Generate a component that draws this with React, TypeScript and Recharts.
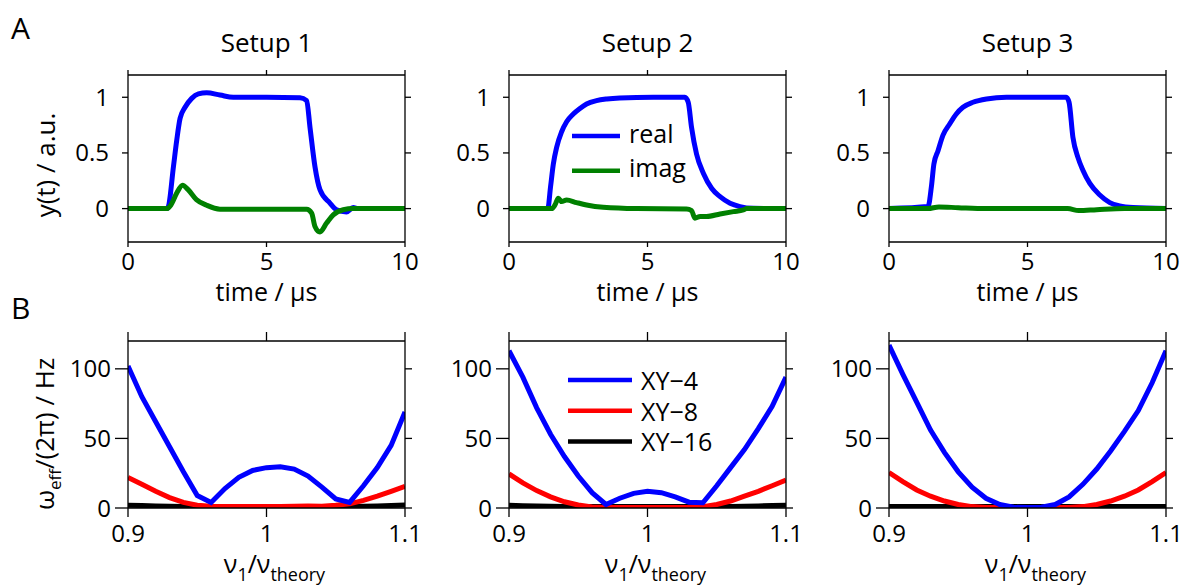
import { Legend, Line, LineChart, XAxis, YAxis } from "recharts";

const FONT = '"Open Sans", sans-serif';

// ---- panel A: measured signal, time in µs ----
const timeTicks = [0, 5, 10];
const signalTicks = [0, 0.5, 1];
const setupTitles = ["Setup 1", "Setup 2", "Setup 3"];

const setup1RealT = [0, 1.4, 1.46, 1.64, 1.76, 1.88, 2.06, 2.3, 2.54, 2.84, 3.32, 3.8, 5, 6.21, 6.45, 6.57, 6.75, 6.93, 7.29, 7.53, 7.89, 8.13, 8.3, 10];
const setup1Real = [0, 0, 0.02, 0.376, 0.615, 0.81, 0.91, 0.99, 1.03, 1.04, 1.02, 1.0, 1.0, 0.995, 0.97, 0.73, 0.376, 0.17, 0.05, -0.01, -0.03, 0.01, 0, 0];
const setup1ImagT = [0, 1.4, 1.55, 1.76, 1.97, 2.17, 2.47, 2.84, 3.32, 6.45, 6.63, 6.75, 6.93, 7.17, 7.41, 7.77, 8.13, 10];
const setup1Imag = [0, 0, 0.033, 0.14, 0.21, 0.17, 0.08, 0.03, -0.005, -0.005, -0.04, -0.16, -0.21, -0.13, -0.056, -0.01, 0, 0];

const setup2RealT = [0, 1.4, 1.5, 1.6, 1.72, 1.9, 2.08, 2.32, 2.56, 2.8, 3.16, 3.53, 4.0, 5.21, 6.35, 6.47, 6.59, 6.77, 7.02, 7.32, 7.62, 7.98, 8.34, 8.82, 10];
const setup2Real = [0, 0, 0.196, 0.4, 0.55, 0.69, 0.78, 0.85, 0.9, 0.94, 0.97, 0.985, 0.994, 1.0, 1.0, 0.955, 0.73, 0.49, 0.315, 0.18, 0.107, 0.048, 0.018, 0.003, 0];
const setup2ImagT = [0, 1.54, 1.66, 1.78, 1.9, 2.08, 2.44, 2.8, 3.4, 4.61, 6.41, 6.59, 6.71, 6.9, 7.13, 7.62, 8.1, 8.46, 8.58, 10];
const setup2Imag = [0, 0, 0.033, 0.092, 0.063, 0.077, 0.054, 0.033, 0.012, 0, -0.003, -0.018, -0.086, -0.071, -0.071, -0.048, -0.027, -0.012, 0, 0];

const setup3RealT = [0, 1.41, 1.53, 1.62, 1.77, 1.95, 2.19, 2.43, 2.67, 3.03, 3.52, 4.24, 6.4, 6.5, 6.64, 6.82, 7.0, 7.25, 7.61, 7.97, 8.33, 8.81, 10];
const setup3Real = [0, 0.018, 0.196, 0.4, 0.52, 0.66, 0.76, 0.85, 0.91, 0.955, 0.985, 1.0, 1.0, 0.955, 0.64, 0.46, 0.345, 0.226, 0.122, 0.054, 0.024, 0.009, 0];
const setup3ImagT = [0, 1.41, 1.8, 2.5, 3.5, 6.45, 6.85, 7.5, 8.5, 10];
const setup3Imag = [0, 0, 0.015, 0.008, 0, 0, -0.018, -0.01, 0, 0];

// ---- panel B: effective rotation vs. pulse frequency ratio ----
const nuRatio = [0.9, 0.91, 0.92, 0.93, 0.94, 0.95, 0.96, 0.97, 0.98, 0.99, 1.0, 1.01, 1.02, 1.03, 1.04, 1.05, 1.06, 1.07, 1.08, 1.09, 1.1];
const nuTicks = [0.9, 1, 1.1];
const omegaTicks = [0, 50, 100];

const b1xy4 = [102, 80, 62, 44, 26, 9, 4, 14, 22, 27, 29, 29.7, 28, 23, 15, 6.5, 4, 16, 29, 45, 69];
const b1xy8 = [22, 17, 12, 7.5, 4, 2, 1.2, 1, 1, 1, 1, 1, 1.2, 1.5, 1.3, 2, 3, 5.5, 8.5, 12, 15.5];
const b1xy16 = [2, 1.8, 1.5, 1.2, 1, 1, 1, 1, 1, 1, 1, 1, 1, 1, 1, 1, 1, 1.2, 1.5, 1.8, 2.2];

const b2xy4 = [113, 94, 72, 53, 37, 23, 11, 2.5, 7, 10.5, 12, 11, 8, 4.2, 3.8, 16, 29, 42, 57, 73, 94];
const b2xy8 = [24.5, 18, 12.5, 8, 4.5, 2.2, 0.8, 0.3, 0.3, 0.3, 0.3, 0.3, 0.3, 0.3, 1, 2.5, 5, 8.5, 12, 16, 20];
const b2xy16 = [2, 1.7, 1.4, 1.2, 1, 1, 1, 1, 1, 1, 1, 1, 1, 1, 1, 1, 1, 1.2, 1.5, 1.8, 2];

const b3xy4 = [117, 96, 76, 56, 40, 26, 15, 7, 2.5, 0.5, 0.3, 0.5, 2.5, 8, 17, 28, 41, 55, 70, 90, 113];
const b3xy8 = [25.5, 19, 13, 8.5, 5, 2.5, 1, 0.3, 0.3, 0.3, 0.3, 0.3, 0.3, 0.3, 1, 2.5, 5, 8.5, 13, 19, 25.5];
const b3xy16 = [1, 1, 1, 1, 1, 1, 1, 1, 1, 1, 1, 1, 1, 1, 1, 1, 1, 1, 1, 1, 1];

const topLegendOrder = ["real", "imag"];
const bottomLegendOrder = ["XY\u22124", "XY\u22128", "XY\u221216"];

// layout
const FRAME_W = 277;
const FRAME_H = 167;
const LEFT_W = 120;
const RIGHT_W = 24;
const TOP_H = 75;
const BOTTOM_H = 80;
const COL_X = [128, 509, 889];
const ROW_Y = [75, 340.5];
const CHART_W = LEFT_W + FRAME_W + RIGHT_W;
const CHART_H = TOP_H + FRAME_H + BOTTOM_H;
const TICK_FONT = 24;
const LABEL_FONT = 25;

const axisStyle = {
  stroke: "#000",
  axisLine: { stroke: "#000", strokeWidth: 1.3 },
  tickLine: { stroke: "#000", strokeWidth: 1.3 },
  tick: { fill: "#000", fontSize: TICK_FONT },
};
const blank = () => "";

const pairs = (xs: number[], ys: number[]) => xs.map((x, i) => ({ x, y: ys[i] }));

function LegendBox({ payload, order, gap, swatch, textDy }: any) {
  const items = order
    .map((name: string) => (payload || []).find((p: any) => p.value === name))
    .filter(Boolean);
  return (
    <svg width={swatch + 110} height={gap * items.length + 10} style={{ overflow: "visible" }}>
      {items.map((p: any, i: number) => {
        const y = 20 + i * gap;
        return (
          <g key={p.value}>
            <line x1={0} x2={swatch} y1={y} y2={y} stroke={p.color} strokeWidth={4.5} />
            <text x={swatch + 9} y={y + textDy} fontSize={25} fill="#000" fontFamily={FONT}>
              {p.value}
            </text>
          </g>
        );
      })}
    </svg>
  );
}

function TimePanel({ col, real, imag }: { col: number; real: { x: number; y: number }[]; imag: { x: number; y: number }[] }) {
  return (
    <div style={{ position: "absolute", left: COL_X[col] - LEFT_W, top: ROW_Y[0] - TOP_H }}>
      <LineChart width={CHART_W} height={CHART_H} margin={{ top: 0, right: 0, bottom: 0, left: 0 }}>
        <XAxis
          xAxisId="b"
          type="number"
          dataKey="x"
          domain={[0, 10]}
          ticks={timeTicks}
          allowDataOverflow
          height={BOTTOM_H}
          tickSize={5}
          tickMargin={6}
          {...axisStyle}
          label={{
            content: () => (
              <text x={LEFT_W + FRAME_W / 2} y={TOP_H + FRAME_H + 59} textAnchor="middle" fontSize={LABEL_FONT} fill="#000">
                time / µs
              </text>
            ),
          }}
        />
        <XAxis
          xAxisId="t"
          orientation="top"
          type="number"
          dataKey="x"
          domain={[0, 10]}
          ticks={timeTicks}
          allowDataOverflow
          height={TOP_H}
          tickSize={5}
          tickFormatter={blank}
          {...axisStyle}
          label={{
            content: () => (
              <g>
                {col === 0 && (
                  <text x={3} y={39} fontSize={30} fill="#000">
                    A
                  </text>
                )}
                <text x={LEFT_W + FRAME_W / 2} y={TOP_H - 23} textAnchor="middle" fontSize={26} fill="#000">
                  {setupTitles[col]}
                </text>
              </g>
            ),
          }}
        />
        <YAxis
          yAxisId="l"
          type="number"
          domain={[-0.3, 1.2]}
          ticks={signalTicks}
          allowDataOverflow
          width={LEFT_W}
          tickSize={6}
          tickMargin={13}
          {...axisStyle}
          label={
            col === 0
              ? {
                  content: () => (
                    <text transform={`translate(47, ${TOP_H + 90}) rotate(-90)`} textAnchor="middle" fontSize={26} fill="#000">
                      y(t) / a.u.
                    </text>
                  ),
                }
              : undefined
          }
        />
        <YAxis
          yAxisId="r"
          orientation="right"
          type="number"
          domain={[-0.3, 1.2]}
          ticks={signalTicks}
          allowDataOverflow
          width={RIGHT_W}
          tickSize={6}
          tickFormatter={blank}
          {...axisStyle}
        />
        {col === 1 && (
          <Legend
            layout="vertical"
            align="center"
            verticalAlign="middle"
            wrapperStyle={{ left: 183, top: 116, width: 160, height: 80 }}
            content={(props: any) => (
              <LegendBox payload={props.payload} order={topLegendOrder} gap={34.7} swatch={48} textDy={6.5} />
            )}
          />
        )}
        <Line
          xAxisId="b"
          yAxisId="l"
          data={real}
          dataKey="y"
          name="real"
          type="monotone"
          stroke="#0000ff"
          strokeWidth={5}
          dot={false}
          activeDot={false}
          isAnimationActive={false}
        />
        <Line
          xAxisId="b"
          yAxisId="l"
          data={imag}
          dataKey="y"
          name="imag"
          type="monotone"
          stroke="#008000"
          strokeWidth={5}
          dot={false}
          activeDot={false}
          isAnimationActive={false}
        />
      </LineChart>
    </div>
  );
}

function OmegaPanel({ col, xy4, xy8, xy16 }: { col: number; xy4: number[]; xy8: number[]; xy16: number[] }) {
  const table = nuRatio.map((nu, i) => ({ nu, xy4: xy4[i], xy8: xy8[i], xy16: xy16[i] }));
  return (
    <div style={{ position: "absolute", left: COL_X[col] - LEFT_W, top: ROW_Y[1] - TOP_H }}>
      <LineChart width={CHART_W} height={CHART_H} data={table} margin={{ top: 0, right: 0, bottom: 0, left: 0 }}>
        <XAxis
          xAxisId="b"
          type="number"
          dataKey="nu"
          domain={[0.9, 1.1]}
          ticks={nuTicks}
          allowDataOverflow
          height={BOTTOM_H}
          tickSize={9}
          tickMargin={8}
          {...axisStyle}
          label={{
            content: () => (
              <text x={LEFT_W + FRAME_W / 2 + 8} y={TOP_H + FRAME_H + 65} textAnchor="middle" fontSize={LABEL_FONT} fill="#000">
                ν
                <tspan dy={8} fontSize={18}>
                  1
                </tspan>
                <tspan dy={-8}>/ν</tspan>
                <tspan dy={8} fontSize={18}>
                  theory
                </tspan>
              </text>
            ),
          }}
        />
        <XAxis
          xAxisId="t"
          orientation="top"
          type="number"
          dataKey="nu"
          domain={[0.9, 1.1]}
          ticks={nuTicks}
          allowDataOverflow
          height={TOP_H}
          tickSize={9}
          tickFormatter={blank}
          {...axisStyle}
          label={
            col === 0
              ? {
                  content: () => (
                    <text x={3} y={52.5} fontSize={30} fill="#000">
                      B
                    </text>
                  ),
                }
              : undefined
          }
        />
        <YAxis
          yAxisId="l"
          type="number"
          domain={[0, 120]}
          ticks={omegaTicks}
          allowDataOverflow
          width={LEFT_W}
          tickSize={13}
          tickMargin={4}
          {...axisStyle}
          label={
            col === 0
              ? {
                  content: () => (
                    <text transform={`translate(46, ${TOP_H + 93}) rotate(-90)`} textAnchor="middle" fontSize={26} fill="#000">
                      ω
                      <tspan dy={7} fontSize={17}>
                        eff
                      </tspan>
                      <tspan dy={-7}>/(2π) / Hz</tspan>
                    </text>
                  ),
                }
              : undefined
          }
        />
        <YAxis
          yAxisId="r"
          orientation="right"
          type="number"
          domain={[0, 120]}
          ticks={omegaTicks}
          allowDataOverflow
          width={RIGHT_W}
          tickSize={7}
          tickFormatter={blank}
          {...axisStyle}
        />
        {col === 1 && (
          <Legend
            layout="vertical"
            align="center"
            verticalAlign="middle"
            wrapperStyle={{ left: 179, top: 94, width: 190, height: 100 }}
            content={(props: any) => (
              <LegendBox payload={props.payload} order={bottomLegendOrder} gap={30.7} swatch={64} textDy={10} />
            )}
          />
        )}
        <Line xAxisId="b" yAxisId="l" dataKey="xy16" name={bottomLegendOrder[2]} type="linear" stroke="#000000" strokeWidth={5} dot={false} activeDot={false} isAnimationActive={false} />
        <Line xAxisId="b" yAxisId="l" dataKey="xy8" name={bottomLegendOrder[1]} type="linear" stroke="#ff0000" strokeWidth={5} dot={false} activeDot={false} isAnimationActive={false} />
        <Line xAxisId="b" yAxisId="l" dataKey="xy4" name={bottomLegendOrder[0]} type="linear" stroke="#0000ff" strokeWidth={5} dot={false} activeDot={false} isAnimationActive={false} />
      </LineChart>
    </div>
  );
}

export default function App() {
  return (
    <div
      style={{
        position: "absolute",
        left: 0,
        top: 0,
        width: 1184,
        height: 585,
        overflow: "hidden",
        background: "#fff",
        fontFamily: FONT,
      }}
    >
      <TimePanel col={0} real={pairs(setup1RealT, setup1Real)} imag={pairs(setup1ImagT, setup1Imag)} />
      <TimePanel col={1} real={pairs(setup2RealT, setup2Real)} imag={pairs(setup2ImagT, setup2Imag)} />
      <TimePanel col={2} real={pairs(setup3RealT, setup3Real)} imag={pairs(setup3ImagT, setup3Imag)} />
      <OmegaPanel col={0} xy4={b1xy4} xy8={b1xy8} xy16={b1xy16} />
      <OmegaPanel col={1} xy4={b2xy4} xy8={b2xy8} xy16={b2xy16} />
      <OmegaPanel col={2} xy4={b3xy4} xy8={b3xy8} xy16={b3xy16} />
    </div>
  );
}
